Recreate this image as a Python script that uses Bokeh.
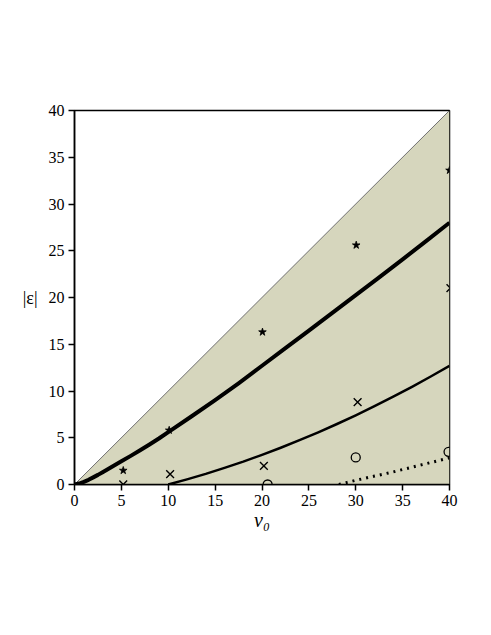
from bokeh.plotting import figure
from bokeh.models import Range1d, FixedTicker
from bokeh.embed import file_html
from bokeh.resources import INLINE

# data
region_x = [0, 40, 40]
region_y = [0, 40, 0]
diag_x = [0, 40]
diag_y = [0, 40]

thick_x = [0, 0.5, 1, 1.5, 2, 2.5, 3, 4, 5, 6, 7, 8, 9, 10, 12.5, 15, 17.5, 20, 22.5, 25, 27.5, 30, 32.5, 35, 37.5, 40]
thick_y = [0, 0.1, 0.28, 0.5, 0.76, 1.03, 1.32, 1.9, 2.48, 3.06, 3.66, 4.28, 4.92, 5.6, 7.3, 9.02, 10.82, 12.7, 14.58, 16.46, 18.36, 20.26, 22.16, 24.08, 26.03, 28.0]

thin_x = [10, 12, 14, 16, 18, 20, 22, 24, 26, 28, 30, 32, 34, 36, 38, 40]
thin_y = [0, 0.55, 1.14, 1.78, 2.45, 3.17, 3.93, 4.74, 5.58, 6.47, 7.4, 8.38, 9.39, 10.45, 11.55, 12.7]

dot_x = [28.2, 29, 30, 31, 32, 33, 34, 35, 36, 37, 38, 39, 40]
dot_y = [0, 0.2, 0.45, 0.67, 0.9, 1.12, 1.35, 1.6, 1.85, 2.1, 2.35, 2.6, 2.85]

star_x = [5.2, 10.1, 20.05, 30.05, 40.0]
star_y = [1.5, 5.8, 16.3, 25.6, 33.6]
cross_x = [5.2, 10.2, 20.2, 30.2, 40.1]
cross_y = [0.0, 1.1, 2.0, 8.8, 21.0]
circ_x = [20.6, 30.0, 39.9]
circ_y = [0.0, 2.9, 3.5]

ticks = [0, 5, 10, 15, 20, 25, 30, 35, 40]

p = figure(width=483, height=568, output_backend="svg", toolbar_location=None,
           x_range=Range1d(0, 40), y_range=Range1d(0, 40),
           min_border_left=74, min_border_right=34, min_border_top=110, min_border_bottom=84)
p.background_fill_color = "white"
p.border_fill_color = "white"
p.outline_line_color = "black"
p.outline_line_width = 1.5
p.xgrid.visible = False
p.ygrid.visible = False

p.patch(region_x, region_y, fill_color="#d6d6bd", line_color=None)
p.line(diag_x, diag_y, line_color="#707070", line_width=1)

p.line(thick_x, thick_y, line_color="black", line_width=4, line_join="round")
p.line(thin_x, thin_y, line_color="black", line_width=2.5, line_join="round")
p.line(dot_x, dot_y, line_color="black", line_width=3, line_dash="2 5")

p.scatter(star_x, star_y, marker="star", size=8, fill_color="black", line_color="black", line_width=0.8)
p.scatter(cross_x, cross_y, marker="x", size=11, line_color="black", line_width=1.4)
p.scatter(circ_x, circ_y, marker="circle", size=9, fill_color=None, line_color="black", line_width=1.3)

for ax in (p.xaxis[0], p.yaxis[0]):
    ax.ticker = FixedTicker(ticks=ticks)
    ax.minor_tick_line_color = None
    ax.major_tick_out = 6
    ax.major_tick_in = 0
    ax.major_tick_line_width = 1.5
    ax.axis_line_width = 1.5
    ax.major_label_text_font = "Liberation Serif"
    ax.major_label_text_font_size = "16px"
    ax.major_label_text_color = "black"
    ax.axis_label_text_font = "Liberation Serif"
    ax.axis_label_text_color = "black"
    ax.axis_label_text_font_style = "normal"

p.xaxis.axis_label = "ν₀"
p.xaxis.axis_label_text_font_size = "20px"
p.xaxis.axis_label_text_font_style = "italic"
p.xaxis.major_label_standoff = 4
p.xaxis.axis_label_standoff = 0

p.yaxis.axis_label = "|ε|"
p.yaxis.axis_label_text_font_size = "18px"
p.yaxis.axis_label_orientation = "horizontal"
p.yaxis.major_label_standoff = 4
p.yaxis.axis_label_standoff = 8

open("out.html", "w").write(file_html(p, INLINE))
